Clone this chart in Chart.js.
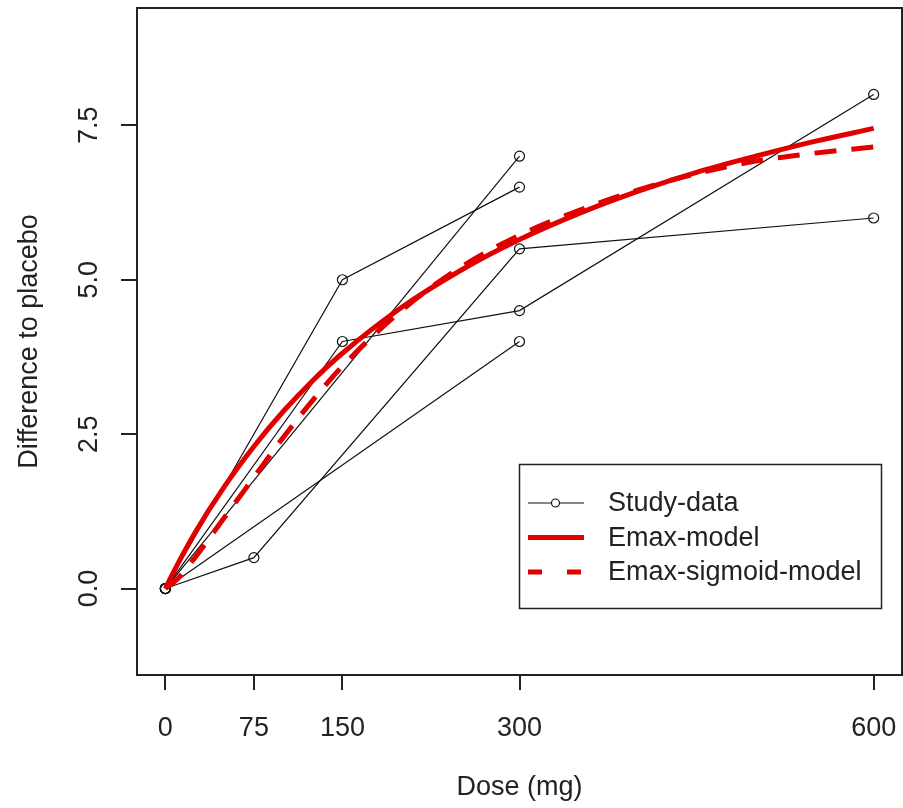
<!DOCTYPE html>
<html>
<head>
<meta charset="utf-8">
<script src="https://cdn.jsdelivr.net/npm/chart.js@4"></script>
<style>
  html, body { margin: 0; padding: 0; background: #fff; }
  canvas { display: block; }
</style>
</head>
<body>
<canvas id="doseChart" width="903" height="808"></canvas>
<script>
// Study data (dose in mg, difference to placebo)
const study1Dose = [0, 150, 300];
const study1Diff = [0, 5.0, 6.5];
const study2Dose = [0, 150, 300, 600];
const study2Diff = [0, 4.0, 4.5, 8.0];
const study3Dose = [0, 75, 300, 600];
const study3Diff = [0, 0.5, 5.5, 6.0];
const study4Dose = [0, 300];
const study4Diff = [0, 7.0];
const study5Dose = [0, 300];
const study5Diff = [0, 4.0];

// fitted curves
const curveDose   = [0, 10, 25, 50, 75, 100, 125, 150, 200, 250, 300, 350, 400, 450, 500, 550, 600];
const emaxFit     = [0, 0.38, 0.90, 1.65, 2.30, 2.87, 3.37, 3.81, 4.55, 5.15, 5.65, 6.07, 6.43, 6.74, 7.00, 7.24, 7.45];
const sigmoidFit  = [0, 0.15, 0.50, 1.15, 1.80, 2.45, 3.05, 3.60, 4.50, 5.20, 5.72, 6.12, 6.45, 6.72, 6.92, 7.05, 7.15];

const xTicks = [0, 75, 150, 300, 600];
const yTicks = [0, 2.5, 5, 7.5];

const legendLabels = ['Study-data', 'Emax-model', 'Emax-sigmoid-model'];

const FONT = { family: '"Liberation Sans", Arial, sans-serif', size: 27 };
const TXT = '#222';
const RED = '#e00000';

const pts = (xs, ys) => xs.map((x, i) => ({ x: x, y: ys[i] }));

function studySet(xs, ys) {
    return {
        data: pts(xs, ys),
        showLine: true,
        borderColor: '#111',
        borderWidth: 1.2,
        pointRadius: 5,
        pointBorderWidth: 1.2,
        pointBorderColor: '#111',
        pointBackgroundColor: 'rgba(0,0,0,0)',
        order: 2
    };
}

// no extra room for overflowing tick labels
function noPad(s) {
    s.paddingLeft = 0;
    s.paddingRight = 0;
    s.paddingTop = 0;
    s.paddingBottom = 0;
}

// box round the plot, rotated y labels, boxed legend (R look)
const rPlot = {
    id: 'rPlot',
    afterDraw(chart) {
        const ctx = chart.ctx;
        const a = chart.chartArea;
        ctx.save();
        ctx.strokeStyle = '#222';
        ctx.lineWidth = 2;
        ctx.strokeRect(a.left, a.top, a.right - a.left, a.bottom - a.top);

        // y tick labels, parallel to the axis
        ctx.fillStyle = TXT;
        ctx.font = FONT.size + 'px ' + FONT.family;
        ctx.textAlign = 'center';
        ctx.textBaseline = 'middle';
        yTicks.forEach(v => {
            const y = chart.scales.y.getPixelForValue(v);
            ctx.save();
            ctx.translate(90, y);
            ctx.rotate(-Math.PI / 2);
            ctx.fillText(v.toFixed(1), 0, 0);
            ctx.restore();
        });

        // legend
        const lx = 519.5, ly = 464.5, lw = 362, lh = 144;
        ctx.fillStyle = '#fff';
        ctx.fillRect(lx, ly, lw, lh);
        ctx.strokeStyle = '#222';
        ctx.lineWidth = 1.5;
        ctx.strokeRect(lx, ly, lw, lh);
        const rows = [503, 537.5, 572];
        const x0 = 528, x1 = 584;

        ctx.strokeStyle = '#111';
        ctx.lineWidth = 1.2;
        ctx.beginPath(); ctx.moveTo(x0, rows[0]); ctx.lineTo(x1, rows[0]); ctx.stroke();
        ctx.fillStyle = '#fff';
        ctx.beginPath(); ctx.arc(555.5, rows[0], 4, 0, Math.PI * 2); ctx.fill(); ctx.stroke();

        ctx.strokeStyle = RED;
        ctx.lineWidth = 5;
        ctx.beginPath(); ctx.moveTo(x0, rows[1]); ctx.lineTo(x1, rows[1]); ctx.stroke();
        ctx.setLineDash([14, 25]);
        ctx.beginPath(); ctx.moveTo(x0, rows[2]); ctx.lineTo(x1 + 2, rows[2]); ctx.stroke();
        ctx.setLineDash([]);

        ctx.fillStyle = TXT;
        ctx.textAlign = 'left';
        legendLabels.forEach((t, i) => ctx.fillText(t, 608, rows[i] + 1));
        ctx.restore();
    }
};

new Chart(document.getElementById('doseChart'), {
    type: 'scatter',
    data: {
        datasets: [
            studySet(study1Dose, study1Diff),
            studySet(study2Dose, study2Diff),
            studySet(study3Dose, study3Diff),
            studySet(study4Dose, study4Diff),
            studySet(study5Dose, study5Diff),
            {
                data: pts(curveDose, emaxFit),
                showLine: true,
                borderColor: RED,
                borderWidth: 5,
                pointRadius: 0,
                cubicInterpolationMode: 'monotone',
                order: 1
            },
            {
                data: pts(curveDose, sigmoidFit),
                showLine: true,
                borderColor: RED,
                borderWidth: 5,
                borderDash: [22, 15],
                pointRadius: 0,
                cubicInterpolationMode: 'monotone',
                order: 0
            }
        ]
    },
    options: {
        responsive: false,
        animation: false,
        layout: { autoPadding: false, padding: { top: 8, right: 1, left: 0, bottom: 0 } },
        plugins: {
            legend: { display: false },
            tooltip: { enabled: false }
        },
        scales: {
            x: {
                type: 'linear',
                min: -24,
                max: 624,
                afterBuildTicks: s => { s.ticks = xTicks.map(v => ({ value: v })); },
                afterFit: s => { s.height = 133; noPad(s); },
                grid: { drawOnChartArea: false, drawTicks: true, tickLength: 15, color: '#222', lineWidth: 2 },
                border: { display: false },
                ticks: { font: FONT, color: TXT, padding: 22, autoSkip: false, maxRotation: 0 },
                title: { display: true, text: 'Dose (mg)', font: FONT, color: TXT, padding: { top: 0, bottom: 4 } }
            },
            y: {
                min: -1.4,
                max: 9.4,
                afterBuildTicks: s => { s.ticks = yTicks.map(v => ({ value: v })); },
                afterFit: s => { s.width = 137; noPad(s); },
                grid: { drawOnChartArea: false, drawTicks: true, tickLength: 16, color: '#222', lineWidth: 2 },
                border: { display: false },
                ticks: { display: false },
                title: { display: true, text: 'Difference to placebo', font: FONT, color: TXT, padding: { top: 13, bottom: 0 } }
            }
        }
    },
    plugins: [rPlot]
});
</script>
</body>
</html>
